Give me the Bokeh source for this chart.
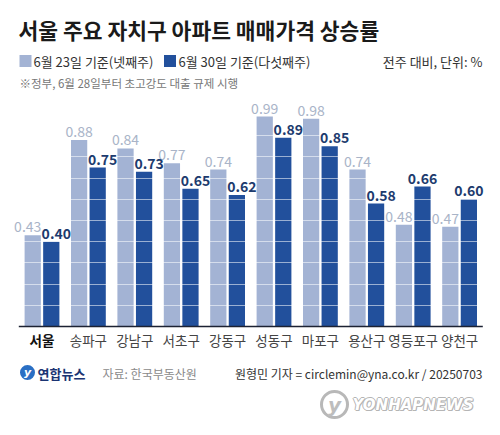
from bokeh.plotting import figure
from bokeh.models import ColumnDataSource, Range1d, Grid, FixedTicker
from bokeh.core.properties import value
from bokeh.embed import file_html
from bokeh.resources import INLINE

# data
districts = ['서울', '송파구', '강남구', '서초구', '강동구', '성동구', '마포구', '용산구', '영등포구', '양천구']
week4 = [0.43, 0.88, 0.84, 0.77, 0.74, 0.99, 0.98, 0.74, 0.48, 0.47]   # 6월 23일 기준(넷째주)
week5 = [0.40, 0.75, 0.73, 0.65, 0.62, 0.89, 0.85, 0.58, 0.66, 0.60]   # 6월 30일 기준(다섯째주)
grid_ticks = [0.1, 0.2, 0.3, 0.4, 0.5, 0.6, 0.7, 0.8, 0.9]

title = '서울 주요 자치구 아파트 매매가격 상승률'
legend_labels = ['6월 23일 기준(넷째주)', '6월 30일 기준(다섯째주)']
unit_note = '전주 대비, 단위: %'
sub_note = '※정부, 6월 28일부터 초고강도 대출 규제 시행'
source_note = '자료: 한국부동산원'
credit = '원형민 기자 = circlemin@yna.co.kr / 20250703'

LIGHT = '#a3b3d4'
DARK = '#22509c'
KR = value('Noto Sans CJK KR')

W, H = 500, 435
# frame covers the whole canvas; 1 category = 46.4px, 1 % = 212px
PX_X, PX_Y = 46.4, 212.0
X0 = -41.5 / PX_X
Y0 = -(H - 326) / PX_Y


def tx(px):
    # reference-pixel x -> data x
    return (px - 41.5) / PX_X


def ty(py):
    # reference-pixel y -> data y
    return (326 - py) / PX_Y


p = figure(width=W, height=H, output_backend="svg", toolbar_location=None,
           x_range=Range1d(X0, X0 + W / PX_X), y_range=Range1d(Y0, Y0 + H / PX_Y),
           x_axis_type=None, y_axis_type=None, min_border=0,
           outline_line_color=None, background_fill_color='white')

xs = list(range(len(districts)))
src = ColumnDataSource(dict(
    x1=[x - 0.2 for x in xs], x2=[x + 0.2 for x in xs],
    w4=week4, w5=week5,
    t4=['%.2f' % v for v in week4], t5=['%.2f' % v for v in week5],
    # nudge labels apart where the neighbouring bar would crowd them
    dx4=[-5 if b > a - 0.05 else 0 for a, b in zip(week4, week5)],
    dx5=[5 if a > b else 0 for a, b in zip(week4, week5)],
))

p.vbar(x='x1', top='w4', width=0.35, bottom=0, source=src, fill_color=LIGHT, line_color=None)
p.vbar(x='x2', top='w5', width=0.35, bottom=0, source=src, fill_color=DARK, line_color=None)

# white gridlines drawn over the bars
grid = Grid(dimension=1, ticker=FixedTicker(ticks=grid_ticks), grid_line_color='white',
            grid_line_alpha=0.55, grid_line_width=1, level='guide')
p.add_layout(grid)

p.segment(x0=-0.5, x1=len(districts) - 0.5, y0=0, y1=0, line_color='#1c2233', line_width=1.6)

r = p.text(x='x1', y='w4', text='t4', source=src, x_offset='dx4', y_offset=-3,
           text_align='center', text_baseline='bottom', text_font=KR,
           text_font_size='14px', text_color='#a9b4c8')
r.level = 'overlay'
r = p.text(x='x2', y='w5', text='t5', source=src, x_offset='dx5', y_offset=-3,
           text_align='center', text_baseline='bottom', text_font=KR, text_font_style='bold',
           text_font_size='14px', text_color='#1d3b6e')
r.level = 'overlay'

# category labels
cat_src = ColumnDataSource(dict(x=xs, y=[ty(339)] * len(xs), t=districts,
                                c=['#111111'] + ['#444444'] * (len(xs) - 1),
                                s=['bold'] + ['normal'] * (len(xs) - 1)))
p.text(x='x', y='y', text='t', source=cat_src, text_align='center', text_baseline='middle',
       text_font=KR, text_font_size='13.5px', text_color='c', text_font_style='s')

# header
p.text(x=[tx(18)], y=[ty(29)], text=[title], text_baseline='middle', text_font=KR,
       text_font_style='bold', text_font_size='21.5px', text_color='#1a1a1a')
p.scatter(x=[tx(25), tx(169.5)], y=[ty(60.5)] * 2, marker='square', size=12,
          fill_color=[LIGHT, DARK], line_color=None)
p.text(x=[tx(33), tx(178)], y=[ty(61)] * 2, text=legend_labels, text_baseline='middle',
       text_font=KR, text_font_size='13px', text_color='#333333')
p.text(x=[tx(482)], y=[ty(61)], text=[unit_note], text_align='right', text_baseline='middle',
       text_font=KR, text_font_size='13px', text_color='#333333')
p.text(x=[tx(19)], y=[ty(82)], text=[sub_note], text_baseline='middle',
       text_font=KR, text_font_size='11.5px', text_color='#777777')

# footer
p.scatter(x=[tx(27)], y=[ty(372)], marker='circle', size=15, fill_color='#2a6fc4', line_color=None)
p.text(x=[tx(27)], y=[ty(372)], text=['y'], text_align='center', text_baseline='middle',
       text_font=value('DejaVu Sans'), text_font_style='bold italic', text_font_size='11px',
       text_color='white')
p.text(x=[tx(37)], y=[ty(373)], text=['연합뉴스'], text_baseline='middle', text_font=KR,
       text_font_style='bold', text_font_size='13px', text_color='#1b3473')
p.text(x=[tx(102)], y=[ty(373)], text=[source_note], text_baseline='middle', text_font=KR,
       text_font_size='12px', text_color='#8a8a8a')
p.text(x=[tx(482)], y=[ty(373)], text=[credit], text_align='right', text_baseline='middle',
       text_font=KR, text_font_size='12px', text_color='#333333')

# watermark
p.scatter(x=[tx(334)], y=[ty(404)], marker='circle', size=26, fill_color='white',
          line_color='#b8b8b8', line_width=3)
p.text(x=[tx(334)], y=[ty(404)], text=['y'], text_align='center', text_baseline='middle',
       text_font=value('DejaVu Sans'), text_font_style='bold italic', text_font_size='20px',
       text_color='#bdbdbd')
for dx, dy in [(-1, 0), (1, 0), (0, -1), (0, 1), (1, 1)]:
    p.text(x=[tx(352)], y=[ty(404)], text=['YONHAPNEWS'], x_offset=dx, y_offset=dy,
           text_baseline='middle', text_font=value('DejaVu Sans'), text_font_style='bold italic',
           text_font_size='15px', text_color='#b5b5b5')
p.text(x=[tx(352)], y=[ty(404)], text=['YONHAPNEWS'], text_baseline='middle',
       text_font=value('DejaVu Sans'), text_font_style='bold italic', text_font_size='15px',
       text_color='white')

open("out.html", "w").write(file_html(p, INLINE))
